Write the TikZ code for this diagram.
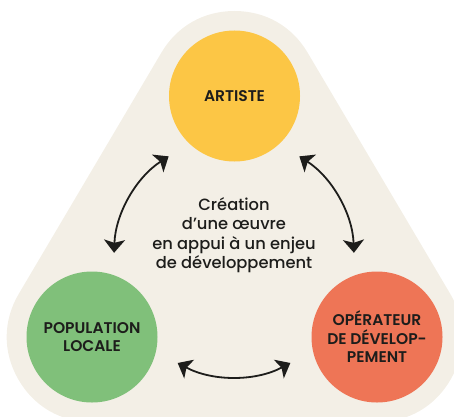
\documentclass[tikz,border=0pt]{standalone}
\usepackage{fontspec}
\setmainfont{Poppins}[BoldFont={Poppins SemiBold}]
\newfontfamily\mediumfont{Poppins Medium}
\usetikzlibrary{arrows.meta,backgrounds}
\definecolor{sable}{RGB}{243,239,230}
\definecolor{jaune}{RGB}{252,198,69}
\definecolor{vert}{RGB}{128,192,122}
\definecolor{corail}{RGB}{238,117,86}
\definecolor{encre}{RGB}{29,29,27}
\tikzset{
  pole/.style={circle, minimum size=131pt, inner sep=0pt, align=center, text=encre,
    font=\bfseries\fontsize{15.5}{18.5}\selectfont},
  twoway/.style={{Stealth[length=13pt,width=21pt,inset=3pt]}-{Stealth[length=13pt,width=21pt,inset=3pt]},
    line width=1.8pt, draw=encre, looseness=0.9}
}

\begin{document}
\begin{tikzpicture}[x=1pt,y=1pt]
  \useasboundingbox (0,0) rectangle (454,416);
  %%%%% START %%%%%
  \node[pole, fill=jaune] (artiste) at (234.5,320) {ARTISTE};
  \node[pole, fill=vert] (population) at (92,79) {POPULATION\\LOCALE};
  \node[pole, fill=corail] (operateur) at (377,79) {OPÉRATEUR\\DE DÉVELOP-\\PEMENT};

  % rounded triangle behind the three circles
  \begin{scope}[on background layer]
    \clip (0,0) rectangle (454,416);
    \filldraw[sable, line width=170pt, line join=round]
      (artiste.center) -- (population.center) -- (operateur.center) -- cycle;
  \end{scope}

  \coordinate (mid) at (234,159);
  \node[align=center, text=encre, font=\mediumfont\fontsize{16.3}{19.3}\selectfont] (creation) at (234,181)
    {Création\\d’une œuvre\\en appui à un enjeu\\de développement};

  \coordinate (pa) at ([shift={(178:120)}]mid);
  \coordinate (ap) at ([shift={(123:120)}]mid);
  \coordinate (ao) at ([shift={(57:120)}]mid);
  \coordinate (oa) at ([shift={(2:120)}]mid);
  \coordinate (po) at ([shift={(242:120)}]mid);
  \coordinate (op) at ([shift={(298:120)}]mid);

  \draw[twoway] (pa) to[bend left=27.5] (ap);
  \draw[twoway] (ao) to[bend left=27.5] (oa);
  \draw[twoway] (op) to[bend left=28] (po);
  %%%%% END %%%%%
\end{tikzpicture}
\end{document}
